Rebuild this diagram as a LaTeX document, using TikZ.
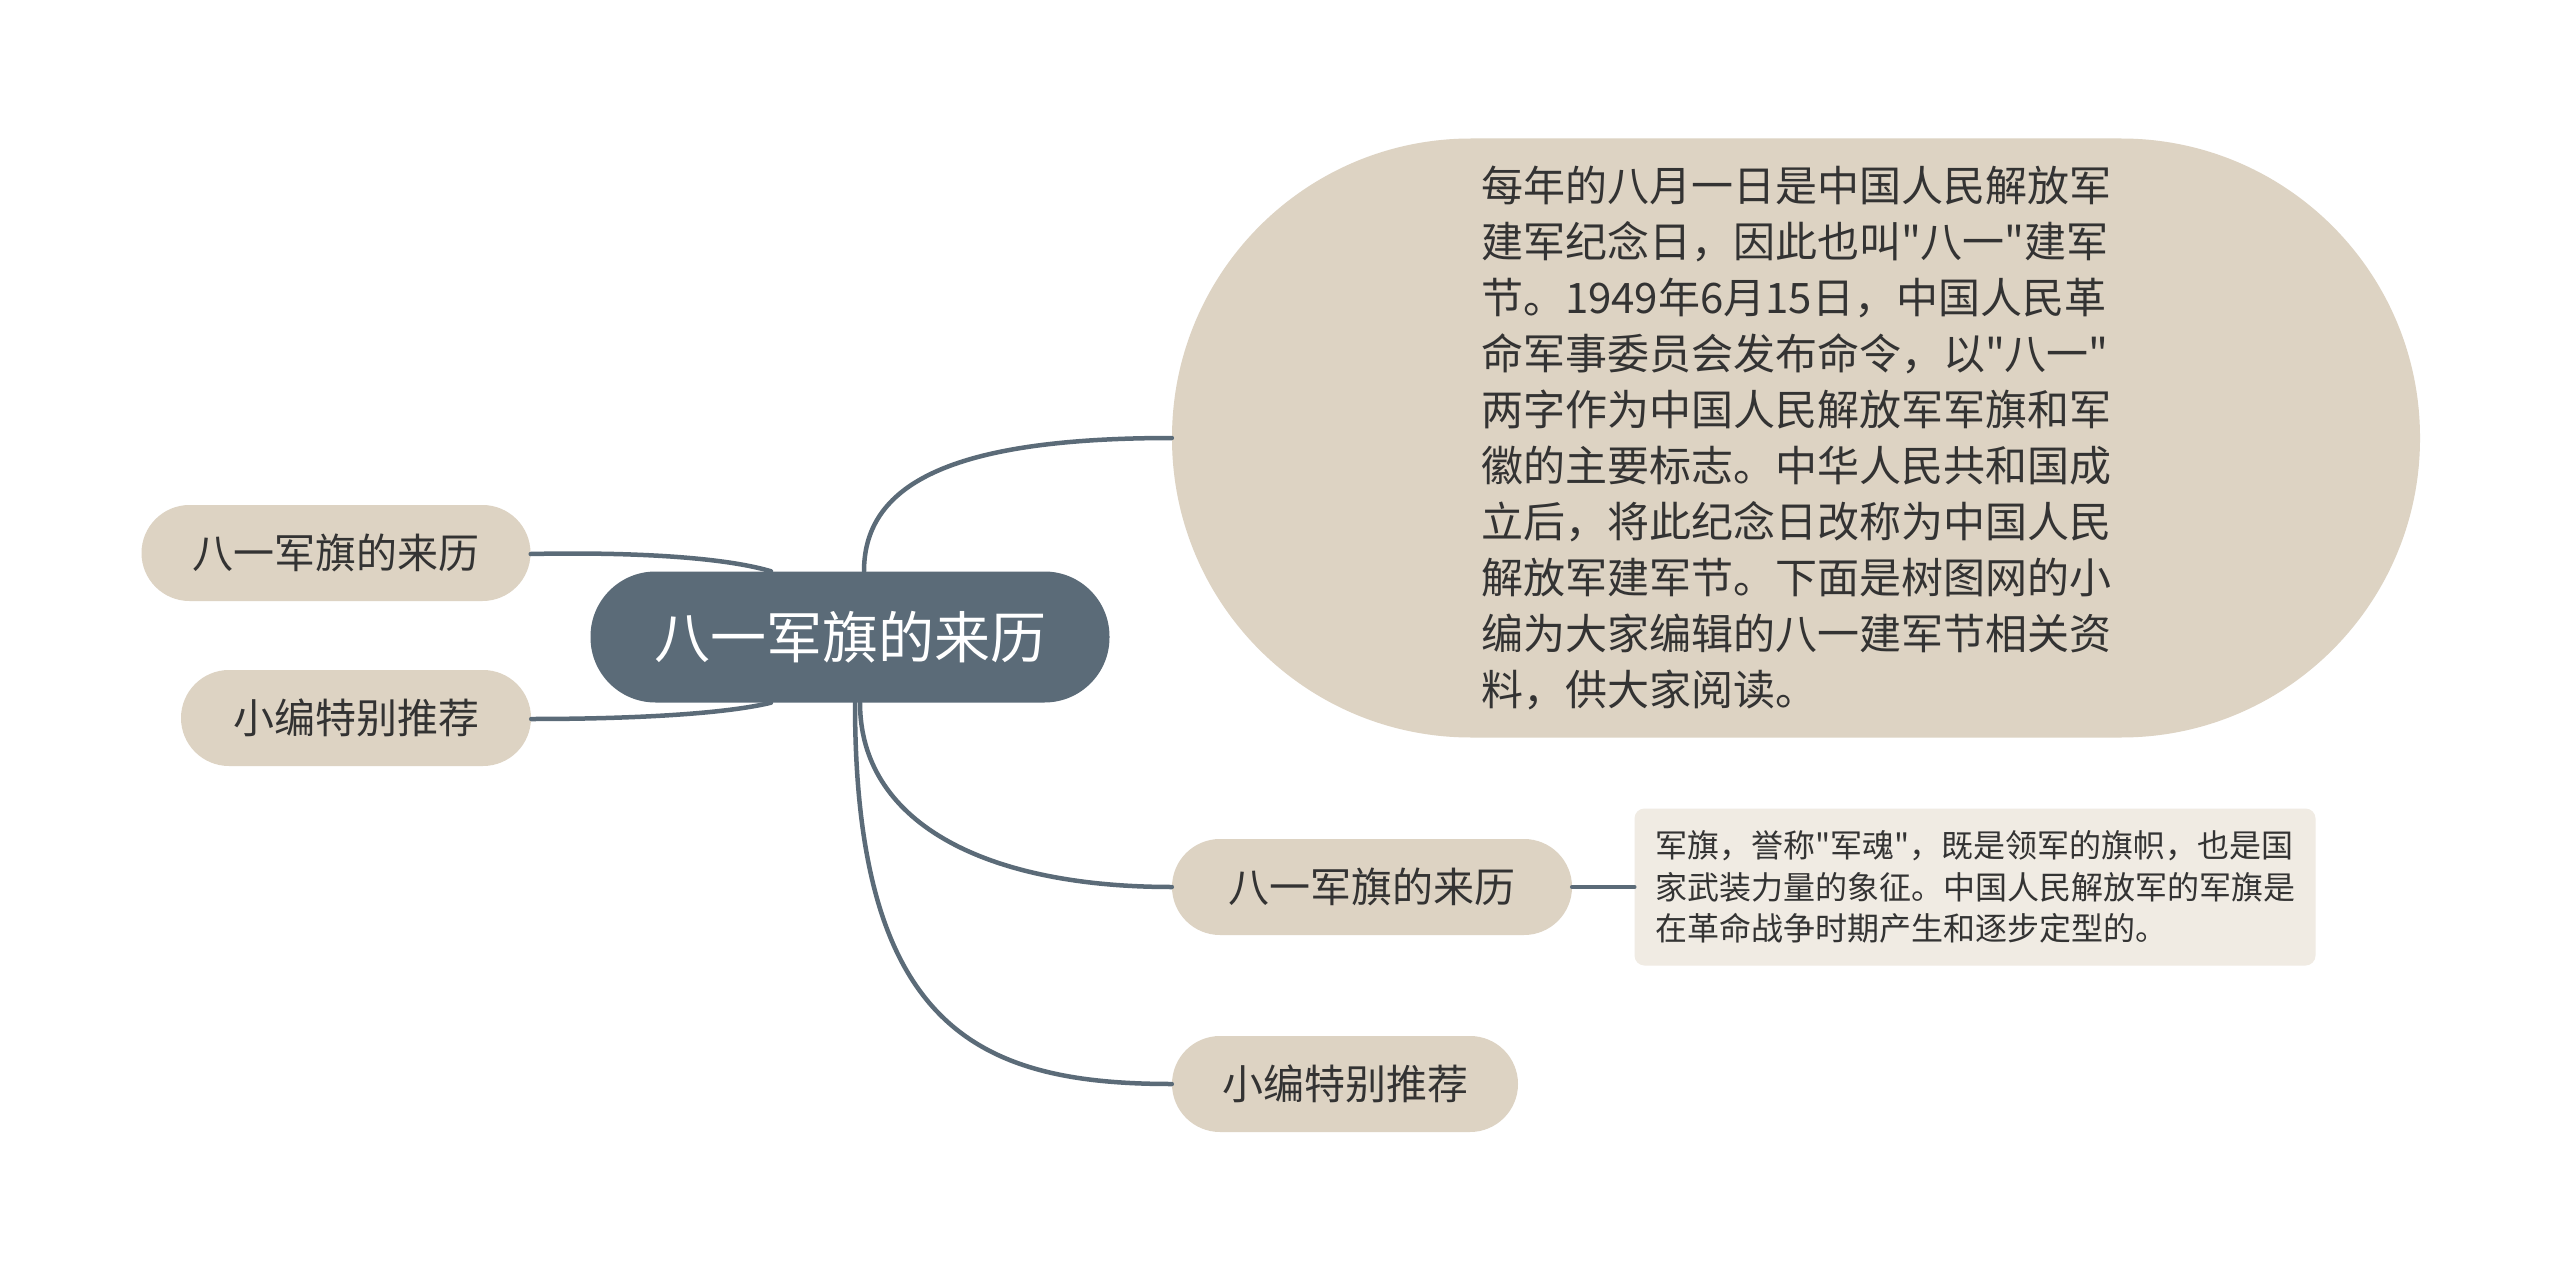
\documentclass[tikz,border=0pt]{standalone}
\usepackage{fontspec}
\newfontfamily\cjk{Noto Sans CJK SC}
\definecolor{slate}{HTML}{5B6B78}
\definecolor{beige}{HTML}{DDD3C3}
\definecolor{notefill}{HTML}{F0EBE3}
\definecolor{txt}{HTML}{333333}
\tikzset{
  topic/.style={rectangle, fill=slate, text=white, rounded corners=65pt, minimum width=519pt, minimum height=131pt, inner sep=0pt, font=\cjk\fontsize{56}{60}\selectfont},
  sub/.style={rectangle, fill=beige, text=txt, rounded corners=48pt, minimum height=96pt, inner sep=0pt, font=\cjk\fontsize{41}{46}\selectfont},
  bigsub/.style={rectangle, fill=beige, text=txt, rounded corners=299pt, minimum width=1248pt, minimum height=599pt, inner sep=0pt, font=\cjk\fontsize{42}{56}\selectfont, align=left},
  note/.style={rectangle, fill=notefill, text=txt, rounded corners=10pt, minimum width=681pt, minimum height=157pt, inner sep=0pt, font=\cjk\fontsize{32}{41.5}\selectfont, align=left},
  link/.style={draw=slate, line width=4.5pt, line cap=round}
}
\begin{document}
\begin{tikzpicture}[x=1pt,y=-1pt]
\useasboundingbox (0,0) rectangle (2560,1273);
\fill[white] (0,0) rectangle (2560,1273);

\node[topic] (ctr) at (850,637) {八一军旗的来历};
\node[bigsub] (big) at (1796,438) {每年的八月一日是中国人民解放军\\建军纪念日，因此也叫"八一"建军\\节。1949年6月15日，中国人民革\\命军事委员会发布命令，以"八一"\\两字作为中国人民解放军军旗和军\\徽的主要标志。中华人民共和国成\\立后，将此纪念日改称为中国人民\\解放军建军节。下面是树图网的小\\编为大家编辑的八一建军节相关资\\料，供大家阅读。};
\node[sub, minimum width=400pt] (r1) at (1372,887) {八一军旗的来历};
\node[sub, minimum width=346pt] (r2) at (1345,1084) {小编特别推荐};
\node[note] (n1) at (1975,887) {军旗，誉称"军魂"，既是领军的旗帜，也是国\\家武装力量的象征。中国人民解放军的军旗是\\在革命战争时期产生和逐步定型的。};
\node[sub, minimum width=389pt] (l1) at (336,553) {八一军旗的来历};
\node[sub, minimum width=350pt] (l2) at (356,718) {小编特别推荐};

\draw[link] ([xshift=14pt]ctr.north) .. controls (864,480) and (960,438) .. (big.west);
\draw[link] ([xshift=10pt]ctr.south) .. controls (860,820) and (980,887) .. (r1.west);
\draw[link] ([xshift=5pt]ctr.south) .. controls (855,1030) and (980,1084) .. (r2.west);
\draw[link] (r1.east) -- (n1.west);
\draw[link] ([xshift=-79pt]ctr.north) .. controls (720,556) and (620,552) .. ([yshift=-1pt]l1.east);
\draw[link] ([xshift=-79pt]ctr.south) .. controls (720,715) and (620,719) .. ([yshift=-1pt]l2.east);
\end{tikzpicture}
\end{document}
